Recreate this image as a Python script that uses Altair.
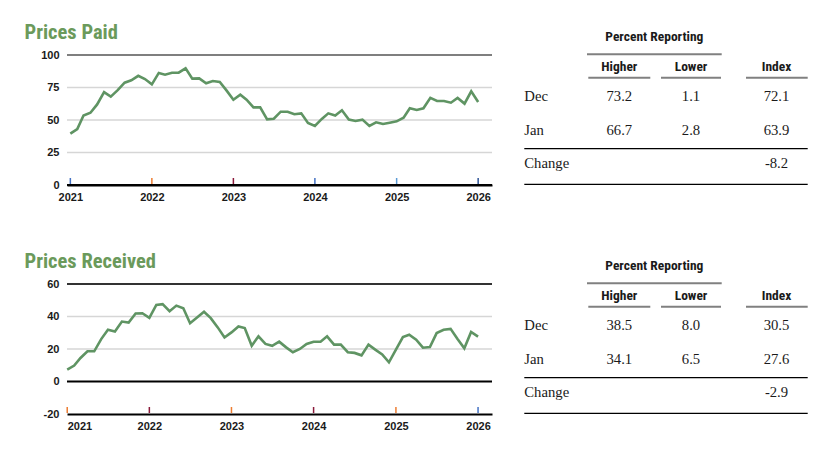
import altair as alt
import pandas as pd

# ---------------- data ----------------
months = pd.date_range("2021-01-01", periods=61, freq="MS")

paid = [39.5, 43, 53.5, 55.6, 62, 71.5, 68, 73, 78.7, 80.5, 84, 81.5,
        77.4, 86.2, 84.9, 86.4, 86.4, 89.7, 81.8, 82, 78.2, 80, 79.2, 72.8,
        65.6, 69.5, 65.6, 59.7, 59.7, 50.5, 51, 56.4, 56.4, 54.4, 55.1, 47.7,
        45.4, 50.8, 55.1, 53.5, 57.5, 50.3, 49.2, 50.3, 45.4, 48.2, 46.9, 47.9,
        49, 51.8, 59, 57.7, 59, 67, 64.6, 64.6, 63.3, 67, 62.6, 72.1, 63.9]

received = [7.3, 9.8, 14.5, 18.6, 18.6, 26.1, 31.8, 30.8, 36.9, 36.3, 41.8, 42,
            39.2, 47.1, 47.6, 43.3, 46.7, 45.1, 35.9, 39.4, 42.9, 39, 33.3, 27.1,
            30.2, 33.9, 32.9, 22, 27.8, 23.1, 22, 24.5, 21, 18, 20, 23.1,
            24.5, 24.5, 27.8, 22.7, 22.7, 18, 17.6, 16.1, 22.7, 19.6, 16.7, 11.8,
            19.6, 27.3, 28.8, 25.7, 20.8, 21.2, 29.8, 31.8, 32.4, 26.3, 20.4, 30.5, 27.6]

years = [2021, 2022, 2023, 2024, 2025, 2026]
paid_tick_colors = ["#4472c4", "#ed7d31", "#8b1a3a", "#4472c4", "#5b9bd5", "#2f5597"]
recv_tick_colors = ["#ed7d31", "#8b1a3a", "#ed7d31", "#8b1a3a", "#ed7d31", "#4472c4"]

paid_yticks = [0, 25, 50, 75, 100]
recv_yticks = [-20, 0, 20, 40, 60]

table_rows = ["Dec", "Jan"]
table_cols = ["Higher", "Lower", "Index"]
paid_higher = [73.2, 66.7]
paid_lower = [1.1, 2.8]
paid_index = [72.1, 63.9]
paid_change = -8.2
recv_higher = [38.5, 34.1]
recv_lower = [8.0, 6.5]
recv_index = [30.5, 27.6]
recv_change = -2.9

# ---------------- style ----------------
LINE_GREEN = "#5f9463"
TITLE_GREEN = "#6b9a5b"
NARROW = "Liberation Sans Narrow, Roboto Condensed, Arial Narrow, sans-serif"
SANS = "Liberation Sans, Arial, sans-serif"
SERIF = "Liberation Serif, Times New Roman, serif"
INK = "#1a1a1a"

PW, PH = 425, 130
TW = 300

# table layout (pixels inside the table panel)
COL_X = {"Higher": 107.3, "Lower": 179.0, "Index": 264.5}
ROW_Y = {"Dec": 42.3, "Jan": 76.0, "Change": 109.3}
HEAD_Y = 12.0
SUPER_Y = -18.0
LABEL_X = 12.3

dark_color = {"Prices Paid": "#7f7f7f", "Prices Received": "#333333"}


def line_panel(title, values, ydom, yticks, light, dark, black, tick_colors, xstart):
    df = pd.DataFrame({"date": months, "v": values})
    xscale = alt.Scale(domain=[xstart, "2026-03-04"], nice=False)
    yscale = alt.Scale(domain=ydom, nice=False, zero=False)
    xaxis = alt.Axis(format="%Y", values=[alt.DateTime(year=y, month=1, date=1) for y in years],
                     labelFont=SANS, labelFontSize=11, labelFontWeight="bold", labelColor=INK,
                     labelPadding=6, ticks=False, domainColor="black", domainWidth=2,
                     grid=False, title=None, labelOverlap=False)
    yaxis = alt.Axis(values=yticks, tickCount=len(yticks), labelFont=SANS, labelFontSize=11,
                     labelFontWeight="bold", labelColor=INK, labelPadding=8, ticks=False,
                     domain=False, grid=False, title=None, labelOverlap=False,
                     labelExpr="'' + datum.value")

    grid_light = alt.Chart(pd.DataFrame({"g": light})).mark_rule(
        color="#d6d6d6", strokeWidth=1.3).encode(y=alt.Y("g:Q", scale=yscale, axis=yaxis))
    grid_dark = alt.Chart(pd.DataFrame({"g": dark})).mark_rule(
        color=dark_color[title], strokeWidth=2.2).encode(y=alt.Y("g:Q", scale=yscale, axis=yaxis))
    grid_black = alt.Chart(pd.DataFrame({"g": black})).mark_rule(
        color="black", strokeWidth=2.2).encode(y=alt.Y("g:Q", scale=yscale, axis=yaxis))
    tick_df = pd.DataFrame({"date": [pd.Timestamp(f"{y}-01-01") for y in years],
                            "c": tick_colors})
    ticks = alt.Chart(tick_df).mark_rule(strokeWidth=1.5).encode(
        x=alt.X("date:T", scale=xscale, axis=xaxis),
        y=alt.value(PH - 7), y2=alt.value(PH - 1),
        color=alt.Color("c:N", scale=None))
    line = alt.Chart(df).mark_line(color=LINE_GREEN, strokeWidth=2.6).encode(
        x=alt.X("date:T", scale=xscale, axis=xaxis),
        y=alt.Y("v:Q", scale=yscale, axis=yaxis))
    return alt.layer(grid_light, grid_dark, grid_black, ticks, line).properties(
        width=PW, height=PH,
        title=alt.TitleParams(title, anchor="start", frame="group", dx=-42.5,
                              font=NARROW, fontSize=20.5, fontWeight="bold",
                              color=TITLE_GREEN, offset=6))


def table_panel(higher, lower, index, change):
    xs = alt.Scale(domain=[0, TW], nice=False, zero=False)
    ys = alt.Scale(domain=[0, PH], reverse=True, nice=False, zero=False)

    head = pd.DataFrame({
        "t": ["Percent Reporting"] + table_cols,
        "x": [(75 + 209.7) / 2] + [COL_X[c] for c in table_cols],
        "y": [SUPER_Y] + [HEAD_Y] * 3,
    })
    labels = pd.DataFrame({"t": table_rows + ["Change"],
                           "x": [LABEL_X] * 3,
                           "y": [ROW_Y[r] for r in table_rows] + [ROW_Y["Change"]]})
    cells = []
    for i, r in enumerate(table_rows):
        for c, arr in zip(table_cols, [higher, lower, index]):
            cells.append({"t": f"{arr[i]:.1f}", "x": COL_X[c], "y": ROW_Y[r]})
    cells.append({"t": f"{change:.1f}", "x": COL_X["Index"], "y": ROW_Y["Change"]})
    cells = pd.DataFrame(cells)

    gray_rules = pd.DataFrame({"x": [75, 76.3, 149, 234], "x2": [209.7, 138.3, 209, 295.7],
                               "y": [-0.7, 22.7, 22.7, 22.7]})
    black_rules = pd.DataFrame({"x": [LABEL_X, LABEL_X], "x2": [295.7, 295.7], "y": [93.7, 129.3]})

    enc = dict(x=alt.X("x:Q", scale=xs, axis=None), y=alt.Y("y:Q", scale=ys, axis=None))
    l_head = alt.Chart(head).mark_text(font=NARROW, fontSize=13.5, fontWeight="bold",
                                       color=INK, align="center", baseline="middle").encode(
        text="t:N", **enc)
    l_lab = alt.Chart(labels).mark_text(font=SERIF, fontSize=14.7, color=INK, align="left",
                                        baseline="middle").encode(text="t:N", **enc)
    l_cells = alt.Chart(cells).mark_text(font=SERIF, fontSize=14.7, color=INK, align="center",
                                         baseline="middle").encode(text="t:N", **enc)
    r_gray = alt.Chart(gray_rules).mark_rule(color="#808080", strokeWidth=2).encode(
        x2="x2:Q", **enc)
    r_black = alt.Chart(black_rules).mark_rule(color="black", strokeWidth=1.3).encode(
        x2="x2:Q", **enc)
    return alt.layer(r_gray, r_black, l_head, l_lab, l_cells).properties(width=TW, height=PH)


top_line = line_panel("Prices Paid", paid, [0, 100], paid_yticks,
                      [25, 50, 75], [100], [0], paid_tick_colors, "2020-12-17")
bot_line = line_panel("Prices Received", received, [-20, 60], recv_yticks,
                      [20, 40], [60], [0], recv_tick_colors, "2020-12-31")
top_table = table_panel(paid_higher, paid_lower, paid_index, paid_change)
bot_table = table_panel(recv_higher, recv_lower, recv_index, recv_change)

chart = alt.concat(top_line, top_table, bot_line, bot_table, columns=2,
                   spacing={"row": 99, "column": 20}, bounds="flush").properties(
    padding={"left": 16, "top": 14, "right": 5, "bottom": 5}
).configure_view(stroke=None).configure_axis(labelOverlap=False)

chart.save("out.html", embed_options={"renderer": "svg", "actions": False})
